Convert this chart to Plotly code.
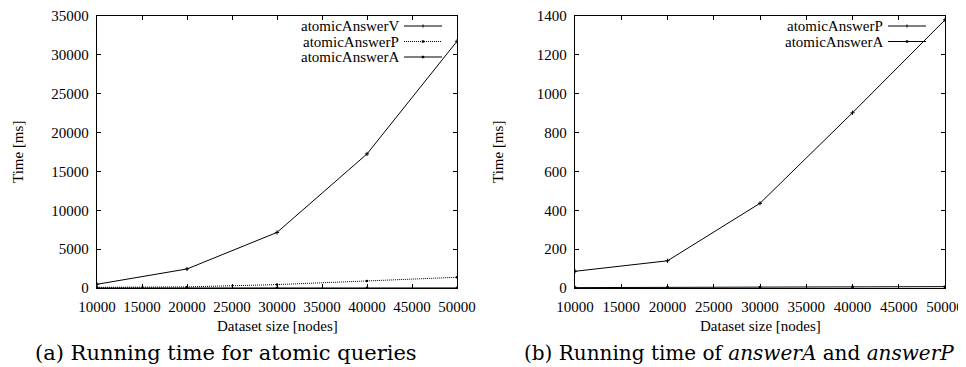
import plotly.graph_objects as go

sizes = [10000, 20000, 30000, 40000, 50000]
atomic_v = [480, 2450, 7150, 17250, 31750]
atomic_p = [86, 140, 436, 902, 1380]
atomic_a = [2, 3, 4, 5, 7]

x_ticks = [10000, 15000, 20000, 25000, 30000, 35000, 40000, 45000, 50000]
y_ticks_a = [0, 5000, 10000, 15000, 20000, 25000, 30000, 35000]
y_ticks_b = [0, 200, 400, 600, 800, 1000, 1200, 1400]

legend_a = ["atomicAnswerV", "atomicAnswerP", "atomicAnswerA"]
legend_b = ["atomicAnswerP", "atomicAnswerA"]
caption_a = "(a) Running time for atomic queries"
caption_b = "(b) Running time of <i>answerA</i> and <i>answerP</i>"
x_title = "Dataset size [nodes]"
y_title = "Time [ms]"

OFF = 8  # default page body margin
W, H = 966 - OFF, 367 - OFF
serif = "Liberation Serif"
cap_font = "DejaVu Serif"

fig = go.Figure()

def px2x(p):
    return (p - OFF) / W

def px2y(p):
    return 1 - (p - OFF) / H

fig.add_trace(go.Scatter(x=sizes, y=atomic_v, mode="lines+markers", xaxis="x", yaxis="y",
                         line=dict(color="black", width=1),
                         marker=dict(symbol="cross-thin", size=3, line=dict(color="black", width=1)),
                         showlegend=False))
fig.add_trace(go.Scatter(x=sizes, y=atomic_p, mode="lines+markers", xaxis="x", yaxis="y",
                         line=dict(color="black", width=1, dash="1px,1px"),
                         marker=dict(symbol="circle", size=2.5, color="black"),
                         showlegend=False))
fig.add_trace(go.Scatter(x=sizes, y=atomic_a, mode="lines+markers", xaxis="x", yaxis="y",
                         line=dict(color="black", width=1),
                         marker=dict(symbol="square", size=2.5, color="black"),
                         showlegend=False))
fig.add_trace(go.Scatter(x=sizes, y=atomic_p, mode="lines+markers", xaxis="x2", yaxis="y2",
                         line=dict(color="black", width=1),
                         marker=dict(symbol="cross-thin", size=3, line=dict(color="black", width=1)),
                         showlegend=False))
fig.add_trace(go.Scatter(x=sizes, y=atomic_a, mode="lines+markers", xaxis="x2", yaxis="y2",
                         line=dict(color="black", width=1),
                         marker=dict(symbol="square", size=2.5, color="black"),
                         showlegend=False))

def ax():
    return dict(showline=True, linecolor="black", linewidth=1.3, mirror="allticks",
                ticks="inside", ticklen=4, tickcolor="black", tickwidth=1, showgrid=False,
                zeroline=False, automargin=False,
                tickfont=dict(family=serif, size=15, color="black"))

fig.update_layout(
    width=W, height=H, margin=dict(l=0, r=0, t=0, b=0),
    paper_bgcolor="white", plot_bgcolor="white",
    font=dict(family=serif, color="black"),
    xaxis=dict(domain=[px2x(97), px2x(457)], anchor="y", range=[10000, 50000],
               tickvals=x_ticks, ticktext=[str(v) for v in x_ticks], ticklabelstandoff=5, **ax()),
    yaxis=dict(domain=[px2y(288), px2y(16)], anchor="x", range=[0, 35000],
               tickvals=y_ticks_a, ticktext=[str(v) for v in y_ticks_a], ticklabelstandoff=4, **ax()),
    xaxis2=dict(domain=[px2x(575), px2x(945)], anchor="y2", range=[10000, 50000],
                tickvals=x_ticks, ticktext=[str(v) for v in x_ticks], ticklabelstandoff=5, **ax()),
    yaxis2=dict(domain=[px2y(288), px2y(16)], anchor="x2", range=[0, 1400],
                tickvals=y_ticks_b, ticktext=[str(v) for v in y_ticks_b], ticklabelstandoff=4, **ax()),
)

ann = []
shapes = []
tf = dict(family=serif, size=15, color="black")
lf = dict(family=serif, size=15, color="black")
for cx, cy in [((97 + 457) / 2, 326), ((575 + 945) / 2, 326)]:
    ann.append(dict(x=px2x(cx), y=px2y(cy), xref="paper", yref="paper", text=x_title,
                    showarrow=False, font=tf, xanchor="center", yanchor="middle"))
for cx in [18, 498]:
    ann.append(dict(x=px2x(cx), y=px2y(152), xref="paper", yref="paper", text=y_title,
                    showarrow=False, font=tf, textangle=-90, xanchor="center", yanchor="middle"))
ann.append(dict(x=px2x(226), y=px2y(353), xref="paper", yref="paper", text=caption_a,
                showarrow=False, font=dict(family=cap_font, size=21, color="black"),
                xanchor="center", yanchor="middle"))
ann.append(dict(x=px2x(739), y=px2y(353), xref="paper", yref="paper", text=caption_b,
                showarrow=False, font=dict(family=cap_font, size=20, color="black"),
                xanchor="center", yanchor="middle"))

def legend_entry(label, text_end, s0, s1, yrow, dash, mk):
    ann.append(dict(x=px2x(text_end), y=px2y(yrow), xref="paper", yref="paper", text=label,
                    showarrow=False, font=lf, xanchor="right", yanchor="middle"))
    shapes.append(dict(type="line", xref="paper", yref="paper", x0=px2x(s0), x1=px2x(s1),
                       y0=px2y(yrow), y1=px2y(yrow), line=dict(color="black", width=1, dash=dash)))
    m = (s0 + s1) / 2
    if mk == "plus":
        shapes.append(dict(type="line", xref="paper", yref="paper", x0=px2x(m), x1=px2x(m),
                           y0=px2y(yrow - 1.5), y1=px2y(yrow + 1.5), line=dict(color="black", width=1)))
    else:
        shapes.append(dict(type="rect", xref="paper", yref="paper", x0=px2x(m - 1.2), x1=px2x(m + 1.2),
                           y0=px2y(yrow - 1.2), y1=px2y(yrow + 1.2), fillcolor="black",
                           line=dict(color="black", width=0)))

legend_entry(legend_a[0], 401, 404, 442, 26, "solid", "plus")
legend_entry(legend_a[1], 401, 404, 442, 41.5, "1px,1px", "dot")
legend_entry(legend_a[2], 401, 404, 442, 57, "solid", "sq")
legend_entry(legend_b[0], 885, 888, 926, 26, "solid", "plus")
legend_entry(legend_b[1], 885, 888, 926, 41.5, "solid", "sq")

fig.update_layout(annotations=ann, shapes=shapes)
fig.write_html("out.html")
